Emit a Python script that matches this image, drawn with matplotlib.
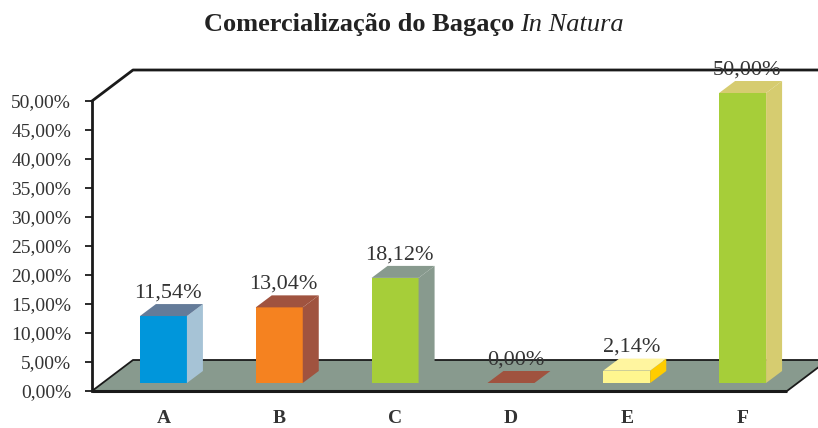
import matplotlib.pyplot as plt
from matplotlib.patches import Polygon
from matplotlib.transforms import blended_transform_factory

categories = ['A', 'B', 'C', 'D', 'E', 'F']
values = [11.54, 13.04, 18.12, 0.00, 2.14, 50.00]
value_labels = ['11,54%', '13,04%', '18,12%', '0,00%', '2,14%', '50,00%']
yticks = [0, 5, 10, 15, 20, 25, 30, 35, 40, 45, 50]
ytick_labels = [f'{t},00%'.replace('.', ',') for t in yticks]

# front / side / top colours for each bar
front_colors = ['#0096DB', '#F58220', '#A6CE39', '#A0533F', '#FFF68F', '#A6CE39']
side_colors = ['#A6C3D6', '#A0533F', '#889A8E', '#A0533F', '#FFCC00', '#D6CC70']
top_colors = ['#647B99', '#A0533F', '#889A8E', '#A0533F', '#FFF59F', '#D6CC70']

FLOOR = '#889A8E'
SERIF = 'Liberation Serif'
TXT = '#333333'

W, H = 818, 428
fig = plt.figure(figsize=(W / 100, H / 100), dpi=100)
ax = fig.add_axes([92 / W, 37 / H, 695 / W, 290 / H])
n = len(categories)
ax.set_xlim(0, n)
ax.set_ylim(0, 50)

px_x = 695 / n      # pixels per category slot
px_y = 290 / 50     # pixels per percent

# depth of the floor / wall, of the bars, and where the bars sit
fdx, fdy = 41 / px_x, 31 / px_y
bdx, bdy = 16 / px_x, 12 / px_y
off_x, off_y = 13.5 / px_x, 8 / px_y
bw = 47 / px_x

# floor
floor = Polygon([(0, 0), (n, 0), (n + fdx, fdy), (fdx, fdy)], closed=True,
                facecolor=FLOOR, edgecolor='#1a1a1a', lw=1.3, clip_on=False, zorder=1)
ax.add_patch(floor)
ax.plot([0, n], [0, 0], color='#1a1a1a', lw=2.2, clip_on=False, zorder=2,
        solid_capstyle='butt')

# back wall top edge
ax.plot([0, fdx, n + 2 * fdx], [50, 50 + fdy, 50 + fdy], color='#1a1a1a', lw=2,
        clip_on=False, zorder=1)

for i, v in enumerate(values):
    x0 = i + 0.5 + off_x - bw / 2
    x1 = x0 + bw
    y0 = off_y
    y1 = off_y + v
    if v > 0:
        ax.add_patch(Polygon([(x0, y0), (x1, y0), (x1, y1), (x0, y1)],
                             facecolor=front_colors[i], lw=0, clip_on=False, zorder=3))
        ax.add_patch(Polygon([(x1, y0), (x1 + bdx, y0 + bdy), (x1 + bdx, y1 + bdy), (x1, y1)],
                             facecolor=side_colors[i], lw=0, clip_on=False, zorder=3))
    ax.add_patch(Polygon([(x0, y1), (x1, y1), (x1 + bdx, y1 + bdy), (x0 + bdx, y1 + bdy)],
                         facecolor=top_colors[i], lw=0, clip_on=False, zorder=3))
    ax.text(i + 0.5 + off_x + bdx / 2 - 0.03, y1 + bdy + 0.3, value_labels[i],
            ha='center', va='bottom', fontsize=16, family=SERIF, color=TXT,
            zorder=4, clip_on=False)

# category labels
trans = blended_transform_factory(ax.transData, ax.transAxes)
for i, c in enumerate(categories):
    ax.annotate(c, xy=(i + 0.5 + off_x, 0), xycoords=trans, xytext=(0, -20),
                textcoords='offset points', ha='center', va='center',
                fontsize=14, fontweight='bold', family=SERIF, color=TXT)

# y axis
for s in ['top', 'right', 'bottom']:
    ax.spines[s].set_visible(False)
ax.spines['left'].set_linewidth(2)
ax.spines['left'].set_color('#1a1a1a')
ax.set_xticks([])
ax.set_yticks(yticks)
ax.set_yticklabels(ytick_labels, family=SERIF, fontsize=14, color=TXT)
ax.tick_params(axis='y', length=5, width=1.3, color='#1a1a1a', pad=10)
ax.patch.set_alpha(0)

# title: bold part followed by italic part
t1 = fig.text(204 / W, 1 - 31 / H, 'Comercialização do Bagaço', ha='left', va='baseline',
              fontsize=19, fontweight='bold', family=SERIF, color='#222222')
fig.canvas.draw()
ax.annotate('In Natura', xy=(1, 0), xycoords=t1, xytext=(4, 0), textcoords='offset points',
            ha='left', va='bottom', fontsize=19, fontstyle='italic', family=SERIF,
            color='#222222', annotation_clip=False)

fig.savefig('out.png', dpi=100)
